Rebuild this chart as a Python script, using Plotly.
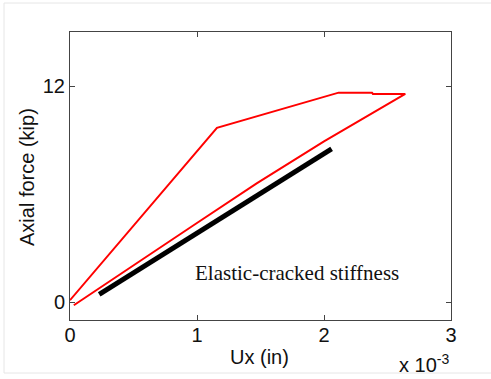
import plotly.graph_objects as go

# Axial force vs. axial displacement (displacement in units of 1e-3 in)
ux_loop = [0.0, 1.157, 2.115, 2.378, 2.385, 2.64, 2.0, 1.47, 0.97, 0.25, 0.03]
force_loop = [0.10, 9.68, 11.63, 11.63, 11.56, 11.56, 8.92, 6.59, 4.25, 0.85, -0.18]

# Elastic-cracked stiffness reference line
ux_stiff = [0.23, 2.06]
force_stiff = [0.43, 8.51]

x_ticks = [0, 1, 2, 3]
y_ticks = [0, 12]

L, R, T, B = 70, 40, 32, 59
W, H = 491, 379
pw, ph = W - L - R, H - T - B

fig = go.Figure()
fig.add_trace(go.Scatter(x=ux_loop, y=force_loop, mode="lines",
                         line=dict(color="#ff0000", width=2), showlegend=False))
fig.add_trace(go.Scatter(x=ux_stiff, y=force_stiff, mode="lines",
                         line=dict(color="#000000", width=5), showlegend=False))

axis_common = dict(showgrid=False, zeroline=False, showline=True, mirror="ticks",
                   linecolor="#444444", linewidth=1, ticks="inside", ticklen=5,
                   tickcolor="#444444",
                   tickfont=dict(family="Liberation Sans, Arial", size=20, color="#111111"))

fig.update_xaxes(range=[0, 3], tickvals=x_ticks, ticktext=[str(v) for v in x_ticks],
                 ticklabelstandoff=-3, **axis_common)
fig.update_yaxes(range=[-1, 15], tickvals=y_ticks, ticktext=[str(v) for v in y_ticks],
                 **axis_common)

title_font = dict(family="Liberation Sans, Arial", size=20, color="#111111")


def px_note(text, px, py, **kw):
    fig.add_annotation(text=text, x=(px - L) / pw, y=(H - B - py) / ph,
                       xref="paper", yref="paper", xanchor="center", yanchor="middle",
                       showarrow=False, **kw)


fig.add_annotation(text="Elastic-cracked stiffness", x=1.79, y=1.6, xref="x", yref="y",
                   xanchor="center", yanchor="middle", showarrow=False,
                   font=dict(family="Liberation Serif, Times New Roman", size=21, color="#111111"))
px_note("Ux (in)", 259, 357, font=title_font)
px_note("Axial force (kip)", 27, 177, textangle=-90, font=title_font)
px_note("x 10<sup>-3</sup>", 424, 363, font=title_font)

# faint outer frame
fig.add_shape(type="rect", xref="paper", yref="paper",
              x0=(4 - L) / pw, x1=(495 - L) / pw,
              y0=(H - B - 373) / ph, y1=(H - B - 3) / ph,
              line=dict(color="#e6e6e6", width=1), fillcolor="rgba(0,0,0,0)")

fig.update_layout(width=W, height=H, margin=dict(l=L, r=R, t=T, b=B),
                  paper_bgcolor="white", plot_bgcolor="white")

fig.write_html("out.html")
